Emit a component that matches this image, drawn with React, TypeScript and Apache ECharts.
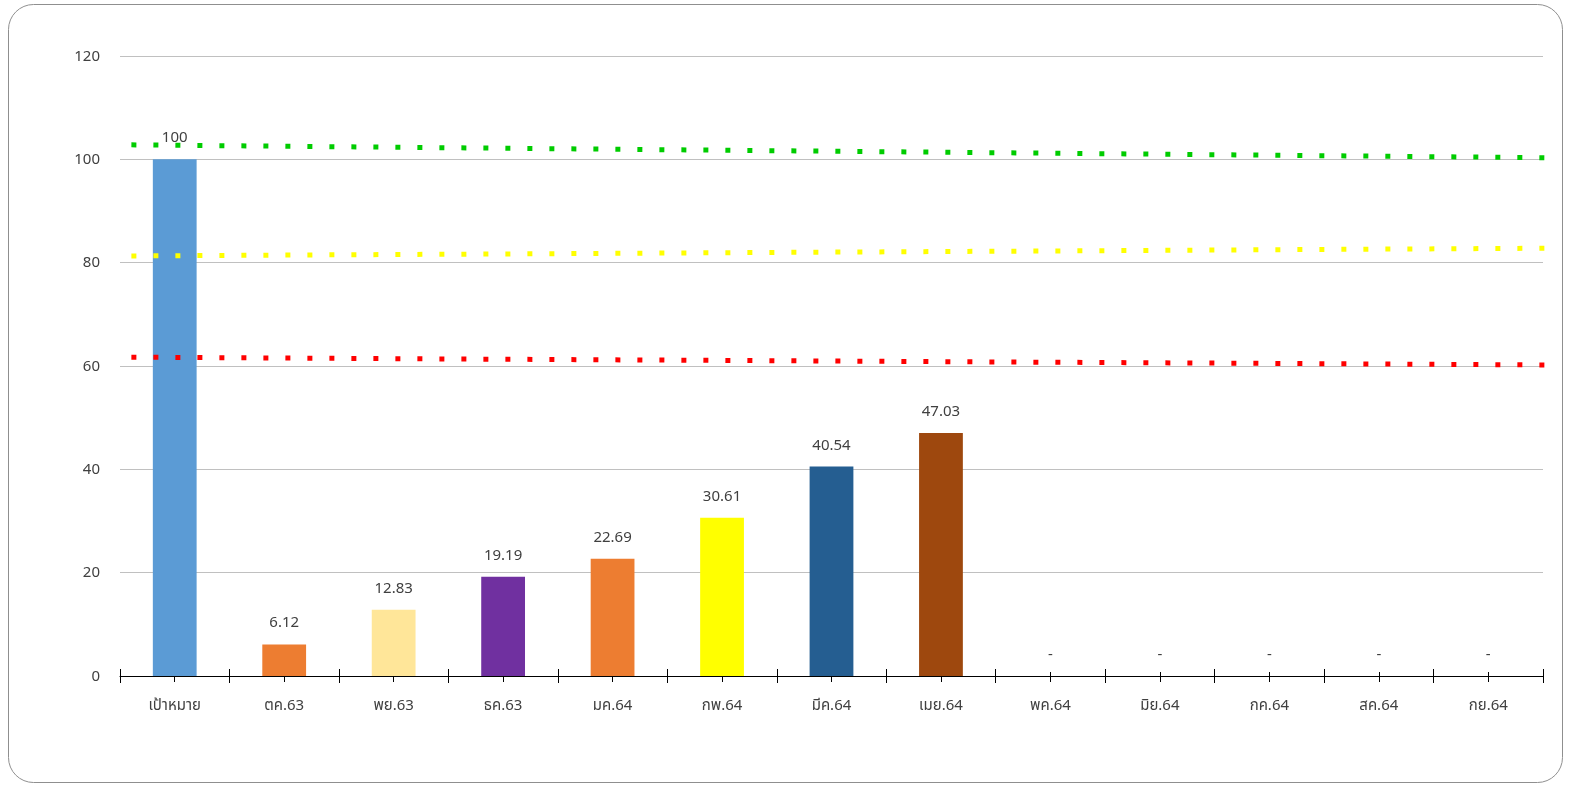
import React, { useEffect, useRef } from "react";
import * as echarts from "echarts";

const categories = ["เป้าหมาย", "ตค.63", "พย.63", "ธค.63", "มค.64", "กพ.64", "มีค.64", "เมย.64", "พค.64", "มิย.64", "กค.64", "สค.64", "กย.64"];
const values: (number | null)[] = [100, 6.12, 12.83, 19.19, 22.69, 30.61, 40.54, 47.03, null, null, null, null, null];
const barColors = ["#5B9BD5", "#ED7D31", "#FFE699", "#7030A0", "#ED7D31", "#FFFF00", "#255E91", "#9E480E", "#5B9BD5", "#5B9BD5", "#5B9BD5", "#5B9BD5", "#5B9BD5"];
const yTicks = { min: 0, max: 120, interval: 20 };

// dotted reference lines: [start value, end value]
const greenLine = [102.8, 100.3];
const yellowLine = [81.3, 82.8];
const redLine = [61.7, 60.2];
const lineSpan = [0.008, 1.008];

const FONT = "'Noto Sans Thai', 'Noto Sans', 'DejaVu Sans', sans-serif";
const TXT = "#404040";

export default function App() {
  const ref = useRef<HTMLDivElement>(null);
  useEffect(() => {
    if (!ref.current) return;
    const chart = echarts.init(ref.current, null, { renderer: "svg" });
    const catAxisBase = {
      type: "category" as const,
      data: categories,
      position: "bottom" as const,
      gridIndex: 0,
    };
    const dotted = (vals: number[], color: string) => ({
      type: "line",
      xAxisIndex: 4,
      yAxisIndex: 0,
      data: [
        [lineSpan[0], vals[0]],
        [lineSpan[1], vals[1]],
      ],
      symbol: "none",
      clip: false,
      silent: true,
      z: 10,
      lineStyle: { color, width: 5, type: [5, 17] },
    });
    chart.setOption({
      animation: false,
      textStyle: { fontFamily: FONT },
      graphic: [
        {
          type: "rect",
          shape: { x: 8.5, y: 4.5, width: 1554, height: 778, r: 25 },
          style: { fill: "#fff", stroke: "#8f8f8f", lineWidth: 1 },
          z: -10,
        },
      ],
      grid: { left: 120, right: 28, top: 56, bottom: 110 },
      xAxis: [
        {
          ...catAxisBase,
          axisLine: { show: true, lineStyle: { color: "#000", width: 1 } },
          axisTick: { show: true, length: 7, lineStyle: { color: "#000" } },
          axisLabel: { color: TXT, fontSize: 15, margin: 22, fontFamily: FONT },
        },
        {
          ...catAxisBase,
          axisLine: { show: false },
          axisTick: { show: true, inside: true, length: 7, lineStyle: { color: "#000" } },
          axisLabel: { show: false },
        },
        {
          ...catAxisBase,
          axisLine: { show: false },
          axisTick: { show: true, alignWithLabel: true, length: 6, lineStyle: { color: "#000" } },
          axisLabel: { show: false },
        },
        {
          ...catAxisBase,
          axisLine: { show: false },
          axisTick: { show: true, alignWithLabel: true, inside: true, length: 4, lineStyle: { color: "#000" } },
          axisLabel: { show: false },
        },
        { type: "value", show: false, min: 0, max: 1, position: "bottom" },
      ],
      yAxis: {
        type: "value",
        min: yTicks.min,
        max: yTicks.max,
        interval: yTicks.interval,
        axisLine: { show: false },
        axisTick: { show: false },
        axisLabel: { color: TXT, fontSize: 15, margin: 20, fontFamily: FONT },
        splitLine: { lineStyle: { color: "#c0c0c0", width: 1 } },
      },
      series: [
        {
          type: "bar",
          xAxisIndex: 0,
          yAxisIndex: 0,
          barWidth: "40%",
          data: values.map((v, i) => ({
            value: v === null ? 0 : v,
            itemStyle: { color: barColors[i] },
            label: { formatter: v === null ? "-" : String(v) },
          })),
          label: {
            show: true,
            position: "top",
            distance: 14,
            color: TXT,
            fontSize: 15,
            fontFamily: FONT,
          },
        },
        dotted(greenLine, "#00CC00"),
        dotted(yellowLine, "#FFFF00"),
        dotted(redLine, "#FF0000"),
      ],
    });
    return () => chart.dispose();
  }, []);
  return <div ref={ref} style={{ position: "fixed", left: 0, top: 0, width: 1571, height: 786 }} />;
}
